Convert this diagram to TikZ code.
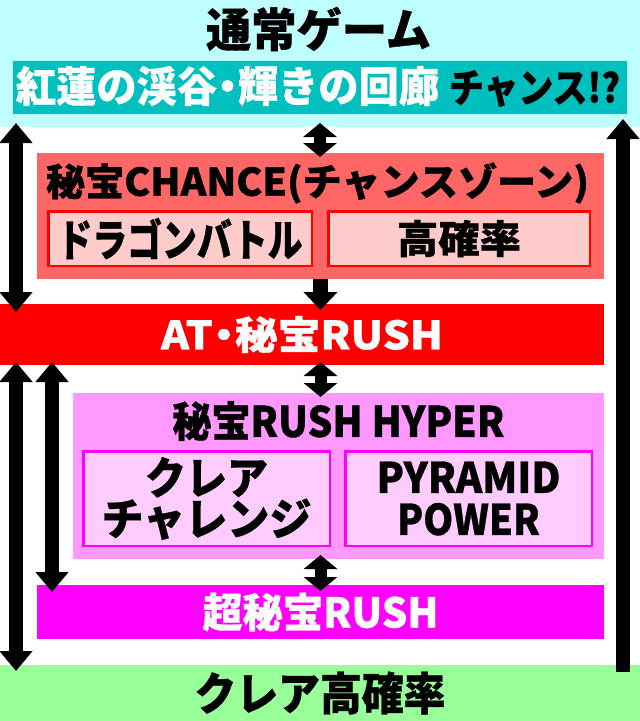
\documentclass[tikz,border=0pt]{standalone}
\usepackage{fontspec}
\setmainfont{Noto Sans CJK JP}[BoldFeatures={FakeBold=0.8}]
\usepackage{graphicx}
\usetikzlibrary{arrows.meta,calc}
\definecolor{cyanL}{HTML}{C0FFFF}
\definecolor{tealD}{HTML}{00BFBF}
\definecolor{salmon}{HTML}{FF6666}
\definecolor{pinkL}{HTML}{FFCCCC}
\definecolor{redF}{HTML}{FF0000}
\definecolor{mag}{HTML}{FF00FF}
\definecolor{magM}{HTML}{FF99FF}
\definecolor{magL}{HTML}{FFCCFF}
\definecolor{greenL}{HTML}{99FF99}
\newcommand\fitw[2]{\resizebox{#1}{\height}{#2}}
\newcommand\fs[1]{\bfseries\fontsize{#1}{#1}\selectfont}
\newcommand\ndot{\kern-0.24em・\kern-0.24em}
\begin{document}
\begin{tikzpicture}[x=1pt,y=-1pt,
  panel/.style={anchor=north west,inner sep=0pt,outer sep=0pt,draw=none},
  subbox/.style={anchor=north west,inner sep=0pt,outer sep=0pt,line width=2.5pt,align=center},
  bigarr/.style={line width=14pt,-{Triangle[width=32pt,length=20pt]}},
  bigdarr/.style={line width=14pt,{Triangle[width=32pt,length=20pt]}-{Triangle[width=32pt,length=20pt]}},
  midarr/.style={line width=15pt,-{Triangle[width=33pt,length=18pt]}},
  smalldarr/.style={line width=12pt,{Triangle[width=33pt,length=14pt]}-{Triangle[width=33pt,length=14pt]}},
  txt/.style={inner sep=0pt,outer sep=0pt}]
\useasboundingbox (0,0) rectangle (640,721);
\fill[white] (0,0) rectangle (640,721);
% panels
\node[panel,fill=cyanL,minimum width=640pt,minimum height=127pt] (normal) at (0,0) {};
\node[txt,font=\fs{46}] (normalT) at (318.5,29) {\fitw{225pt}{通常ゲーム}};
\node[panel,fill=tealD,minimum width=614pt,minimum height=53pt] (teal) at (13,61) {};
\node[txt,font=\fs{42},text=white] (tealA) at (227.5,86) {\fitw{423pt}{紅蓮の渓谷\ndot 輝きの回廊}};
\node[txt,font=\fs{40},text=black] (tealB) at (534.5,88.5) {\fitw{171pt}{チャンス!?}};

\node[panel,fill=salmon,minimum width=567pt,minimum height=126pt] (chance) at (37,153) {};
\node[txt,font=\fs{38}] (chanceT) at (317.5,183) {\fitw{543pt}{秘宝CHANCE(チャンスゾーン)}};
\node[subbox,draw=redF,fill=pinkL,minimum width=263.5pt,minimum height=54.5pt,font=\fs{44}] (chA) at (48.25,211.25) {\fitw{245pt}{ドラゴンバトル}};
\node[subbox,draw=redF,fill=pinkL,minimum width=261.5pt,minimum height=54.5pt,font=\fs{39}] (chB) at (328.25,211.25) {\fitw{124pt}{高確率}};

\node[panel,fill=redF,minimum width=604pt,minimum height=61pt,text=white,font=\fs{39}] (at) at (0,304) {\fitw{282pt}{AT\ndot 秘宝RUSH}};

\node[panel,fill=magM,minimum width=531pt,minimum height=166pt] (hyper) at (73,393) {};
\node[txt,font=\fs{42}] (hyperT) at (338.5,421) {\fitw{332pt}{秘宝RUSH HYPER}};
\node[subbox,draw=mag,fill=magL,minimum width=246.5pt,minimum height=94.5pt,font={\bfseries\fontsize{44}{41}\selectfont}] (hyA) at (83.25,451.25) {\fitw{123pt}{クレア}\\\fitw{210pt}{チャレンジ}};
\node[subbox,draw=mag,fill=magL,minimum width=246.5pt,minimum height=94.5pt,font={\bfseries\fontsize{42}{42}\selectfont}] (hyB) at (345.25,451.25) {\fitw{184pt}{PYRAMID}\\\fitw{143pt}{POWER}};

\node[panel,fill=mag,minimum width=567pt,minimum height=54pt,text=white,font=\fs{41}] (super) at (37,585) {\fitw{236pt}{超秘宝RUSH}};
\node[panel,fill=greenL,minimum width=640pt,minimum height=56pt,font=\fs{45}] (green) at (0,665) {\fitw{251pt}{クレア高確率}};

% arrows
\draw[bigdarr] ($(normal.south west)+(16,-4)$) -- ($(at.north west)+(16,8)$);
\draw[bigdarr] ($(at.south west)+(16,-3)$) -- ($(green.north west)+(16,6)$);
\draw[bigdarr] ($(at.south west)+(52,-3)$) -- ($(super.north west)+(15,7)$);
\draw[bigarr] ($(green.north west)+(623,7)$) -- ($(normal.south west)+(623,-8)$);
\draw[smalldarr] ($(normal.south)+(0,-4)$) -- ($(normal.south |- chance.north)+(0,4)$);
\draw[midarr] (chance.south) -- ($(chance.south |- at.north)+(0,6)$);
\draw[smalldarr] ($(chance.south |- at.south)+(0,-3)$) -- ($(chance.south |- hyper.north)+(0,4)$);
\draw[smalldarr] ($(chance.south |- hyper.south)+(0,-4)$) -- ($(chance.south |- super.north)+(0,6)$);
\end{tikzpicture}
\end{document}
